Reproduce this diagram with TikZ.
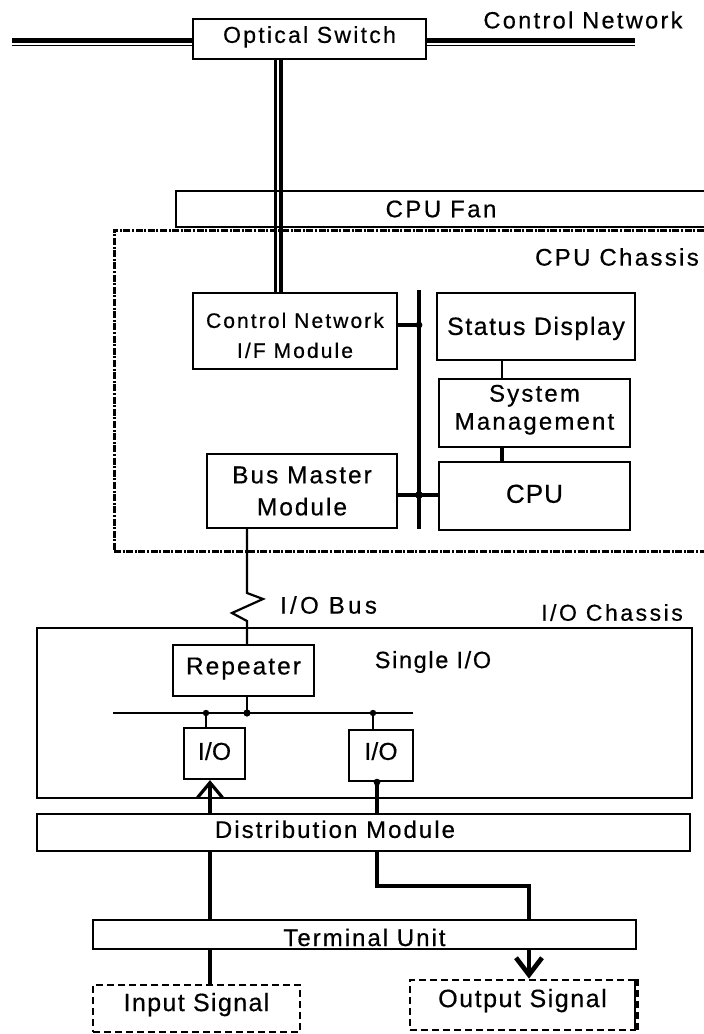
\documentclass[tikz,border=0pt]{standalone}
\usepackage{fontspec}
\setmainfont{Liberation Sans}
\usetikzlibrary{arrows.meta,calc}
\newcommand\fz[3]{\fontsize{#1pt}{#2pt}\selectfont\addfontfeature{LetterSpace=#3,FakeBold=0.5}}
\begin{document}
\begin{tikzpicture}[x=1pt,y=-1pt,
  box/.style={draw, rectangle, line width=2.2pt, inner sep=1pt, align=center},
  lab/.style={inner sep=0pt},
  sig/.style={draw, rectangle, line width=2.8pt, dash pattern=on 7pt off 4pt, inner sep=1pt},
  chassis/.style={draw, rectangle, line width=3pt, dash pattern=on 7pt off 1.6pt on 2pt off 1.6pt},
  dbthick/.style={line width=5pt},
  dbthin/.style={line width=1.8pt},
  thinline/.style={line width=2.2pt},
  busline/.style={line width=4.8pt},
  tap/.style={line width=3.6pt},
  inline/.style={line width=3.2pt},
  outline/.style={line width=4.7pt}]
\useasboundingbox (0,0) rectangle (704,1034);
\fill[white] (0,0) rectangle (704,1034);
\clip (0,0) rectangle (704,1034);

% nodes
\node[box, minimum width=233pt, minimum height=40pt, text depth=9pt, font=\fz{23}{28}{9.8}] (osw) at (309.5,39) {Optical Switch};
\node[lab, font=\fz{23.5}{28}{10}] (ctrl) at (583,20) {Control Network};
\node[box, minimum width=530pt, minimum height=36pt, font=\fz{24}{29}{10}] (fan) at (441,209) {CPU Fan};
\node[chassis, minimum width=598pt, minimum height=321pt] (cpuch) at (413,390.5) {};
\node[lab, font=\fz{24}{29}{9.7}] (cpuchl) at (617,257) {CPU Chassis};
\node[box, minimum width=204pt, minimum height=76pt, font=\fz{21}{30}{10}] (cnif) at (295,331) {\rule{0pt}{24pt}Control Network\\I/F Module};
\node[box, minimum width=198pt, minimum height=67pt, text height=22pt, font=\fz{25}{30}{6}] (sd) at (536,326.5) {Status Display};
\node[box, minimum width=191pt, minimum height=68pt, font=\fz{24}{28}{9}] (sm) at (534.5,413) {System\\Management\rule[-11.5pt]{0pt}{11.5pt}};
\node[box, minimum width=191pt, minimum height=68pt, text depth=4.6pt, font=\fz{26}{31}{4}] (cpu) at (534.5,496) {CPU};
\node[box, minimum width=190pt, minimum height=74pt, font=\fz{24.5}{32}{8}] (bmm) at (302,491) {Bus Master\\Module};
\node[lab, font=\fz{24}{29}{14}] (iobus) at (328.5,605) {I/O Bus};
\node[box, minimum width=655pt, minimum height=170pt] (ioch) at (364.5,713) {};
\node[lab, font=\fz{23}{28}{11}] (iochl) at (612,612.5) {I/O Chassis};
\node[box, minimum width=141pt, minimum height=51pt, text depth=9pt, font=\fz{24.5}{29}{8.3}] (rep) at (243.5,670.5) {Repeater};
\node[lab, font=\fz{23.5}{28}{7}] (single) at (433,662) {Single I/O};
\node[box, minimum width=61pt, minimum height=51pt, text depth=5pt, font=\fz{24.5}{29}{1}] (io1) at (214.5,753.5) {I/O};
\node[box, minimum width=64pt, minimum height=51pt, text depth=9pt, font=\fz{24.5}{29}{1}] (io2) at (381,755.5) {I/O};
\node[box, minimum width=653pt, minimum height=37pt, text depth=6.6pt, font=\fz{24}{29}{8.5}] (dm) at (363.5,832.5) {Distribution Module\hspace*{57pt}};
\node[box, minimum width=543pt, minimum height=29pt, text height=23pt, text depth=0pt, font=\fz{24}{29}{8.4}] (tu) at (364.5,934.5) {Terminal Unit};
\node[sig, minimum width=207pt, minimum height=47pt, text depth=13pt, font=\fz{25}{30}{5.5}] (isig) at (196.5,1008.5) {Input Signal};
\node[sig, minimum width=225pt, minimum height=50pt, text depth=14pt, font=\fz{25}{30}{6.2}] (osig) at (522.5,1005) {Output Signal};
\draw[line width=4.2pt, dash pattern=on 7pt off 4pt] (osig.north east) -- (osig.south east);

% control network double lines
\coordinate (lnL) at (12,40.5);  \coordinate (lnLt) at (12,45.5);
\coordinate (lnR) at (635,40.5); \coordinate (lnRt) at (635,45.5);
\draw[dbthick] (lnL) -- (lnL -| osw.west);
\draw[dbthin] (lnLt) -- (lnLt -| osw.west);
\draw[dbthick] (osw.east |- lnR) -- (lnR);
\draw[dbthin] (osw.east |- lnRt) -- (lnRt);
\coordinate (vthin) at (275.5,0); \coordinate (vthick) at (281,0);
\draw[line width=2.2pt] (osw.south -| vthin) -- (cnif.north -| vthin);
\draw[line width=4.4pt] (osw.south -| vthick) -- (cnif.north -| vthick);

% CPU bus
\coordinate (bt) at (419,290); \coordinate (bb) at (419,529);
\draw[busline] (bt) -- (bb);
\coordinate (j1) at (419,325); \coordinate (j2) at (419,495);
\draw[tap] (j1 -| cnif.east) -- (j1);
\draw[tap] (j2 -| bmm.east) -- (j2 -| cpu.west);
\fill (j1) circle (3.4pt);
\fill (j2) circle (3.8pt);
\coordinate (c5) at (502,0);
\draw[line width=2pt] (sd.south -| c5) -- (sm.north -| c5);
\draw[line width=4.4pt] (sm.south -| c5) -- (cpu.north -| c5);

% I/O bus with break
\coordinate (zz) at (247,0);
\draw[thinline] (bmm.south -| zz) -- (247,593) -- (263,599) -- (232,613) -- (247,621) -- (rep.north -| zz);
\coordinate (rb) at (247,713); \coordinate (ibL) at (113,713); \coordinate (ibR) at (413,713);
\coordinate (d1) at (206,713); \coordinate (d2) at (373,713);
\draw[thinline] (rep.south -| rb) -- (rb);
\draw[thinline] (ibL) -- (ibR);
\draw[thinline] (d1) -- (io1.north -| d1);
\draw[thinline] (d2) -- (io2.north -| d2);
\fill (rb) circle (3.6pt);
\fill (d1) circle (3.2pt);
\fill (d2) circle (3.2pt);

% input path
\coordinate (inx) at (210,0);
\draw[inline, -{Straight Barb[length=15pt,width=25pt]}] (dm.north -| inx) -- (io1.south -| inx);
\draw[inline] (tu.north -| inx) -- (dm.south -| inx);
\draw[inline] (isig.north -| inx) -- (tu.south -| inx);

% output path
\coordinate (ox) at (377,0); \coordinate (ox2) at (529,0); \coordinate (oy) at (377,886);
\draw[outline] (io2.south -| ox) -- (dm.north -| ox);
\draw[outline] (dm.south -| ox) -- (oy) -- (oy -| ox2) -- (tu.north -| ox2);
\fill (io2.south -| ox) circle (3.4pt);
\draw[outline, -{Straight Barb[length=17pt,width=26pt]}] (tu.south -| ox2) -- (osig.north -| ox2);
\end{tikzpicture}
\end{document}
